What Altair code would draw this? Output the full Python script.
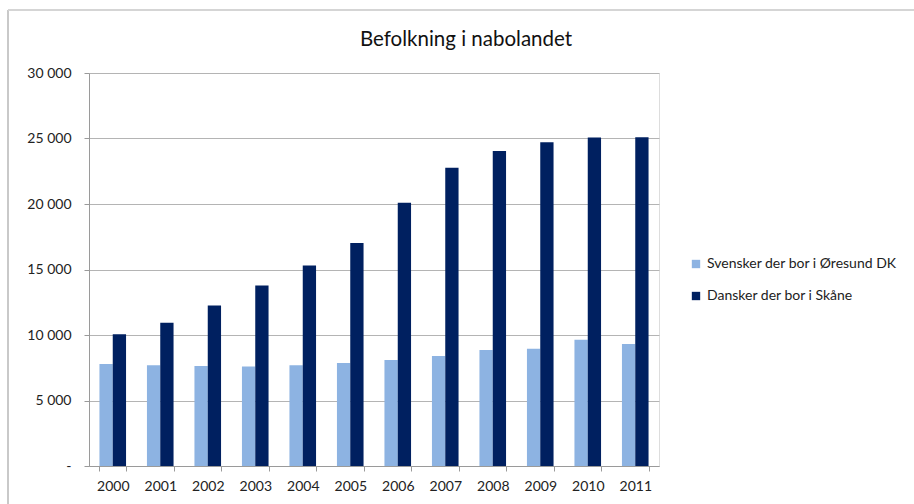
import altair as alt
import pandas as pd

years = ["2000", "2001", "2002", "2003", "2004", "2005", "2006", "2007", "2008", "2009", "2010", "2011"]
svensker = [7780, 7700, 7630, 7600, 7700, 7860, 8090, 8390, 8850, 8950, 9640, 9310]
dansker = [10050, 10930, 12260, 13780, 15310, 17030, 20090, 22760, 24050, 24710, 25070, 25100]
series = ["Svensker der bor i Øresund DK", "Dansker der bor i Skåne"]
colors = ["#8db3e2", "#002060"]
y_ticks = [0, 5000, 10000, 15000, 20000, 25000, 30000]

rows = []
for i, y in enumerate(years):
    rows.append({"year": y, "serie": series[0], "value": svensker[i]})
    rows.append({"year": y, "serie": series[1], "value": dansker[i]})
df = pd.DataFrame(rows)

FONT = "Lato"

bars = alt.Chart(df).mark_bar().encode(
    x=alt.X("year:N", sort=years, title=None,
            scale=alt.Scale(paddingInner=0.44, paddingOuter=0.22),
            axis=alt.Axis(labelAngle=0, tickBand="extent", tickSize=5, tickColor="#9a9a9a",
                          domainColor="#9a9a9a", labelPadding=8, labelFontSize=14,
                          labelColor="#222222", labelFont=FONT, grid=False)),
    xOffset=alt.XOffset("serie:N", sort=series),
    y=alt.Y("value:Q", title=None,
            scale=alt.Scale(domain=[0, 30000], nice=False),
            axis=alt.Axis(values=y_ticks, tickSize=5, tickColor="#9a9a9a", domainColor="#9a9a9a",
                          gridColor="#b4b4b4", gridWidth=1, labelPadding=13, labelFontSize=14,
                          labelColor="#222222", labelFont=FONT,
                          labelExpr="datum.value == 0 ? '-\u00a0\u00a0\u00a0' : replace(format(datum.value, ','), ',', ' ')")),
    color=alt.Color("serie:N", sort=series,
                    scale=alt.Scale(domain=series, range=colors),
                    legend=alt.Legend(title=None, orient="none", legendX=600, legendY=184,
                                      symbolType="square", symbolSize=70, symbolStrokeWidth=0,
                                      labelFontSize=14, labelFont=FONT, labelColor="#222222",
                                      labelLimit=400, rowPadding=18, labelOffset=4)),
)

border_left = alt.Chart(df).mark_rule(color="#c8c8c8", strokeWidth=1.5).encode(
    x=alt.value(-81), y=alt.value(-63), y2=alt.value(440)
)
border_top = alt.Chart(df).mark_rule(color="#d4d4d4", strokeWidth=1.5).encode(
    x=alt.value(-81), x2=alt.value(830), y=alt.value(-63)
)

chart = alt.layer(border_left, border_top, bars).properties(
    width=570, height=393,
    title=alt.TitleParams("Befolkning i nabolandet", fontSize=20.5, font=FONT, fontWeight="normal",
                          color="#111111", anchor="middle", dx=92, offset=-57, baseline="alphabetic"),
    autosize=alt.AutoSizeParams(type="none"),
    padding={"left": 89, "top": 73, "right": 255, "bottom": 38},
).configure_view(stroke=None).configure(background="white")

chart.save("out.html", embed_options={"renderer": "svg", "actions": False})
